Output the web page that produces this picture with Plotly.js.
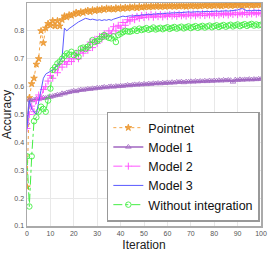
<!DOCTYPE html>
<html><head><meta charset="utf-8">
<script src="https://cdn.plot.ly/plotly-3.0.1.min.js"></script>
<style>html,body{margin:0;padding:0;background:#fff}#c{width:269px;height:254px}</style>
</head><body><div id="c"></div>
<script>
const iterations = Array.from({length:101},(_, i)=>i);
const pointnet = [0.24,0.56,0.61,0.63,0.68,0.70,0.80,0.757,0.81,0.826,0.82,0.836,0.817,0.836,0.817,0.84,0.853,0.849,0.857,0.855,
0.86,0.866,0.862,0.868,0.865,0.87,0.873,0.868,0.875,0.872,0.876,0.874,0.879,0.876,0.881,0.878,0.88,0.877,0.882,0.879,
0.883,0.88,0.884,0.881,0.885,0.883,0.886,0.882,0.887,0.884,0.886,0.888,0.885,0.889,0.886,0.888,0.89,0.886,0.889,0.887,
0.89,0.888,0.891,0.887,0.89,0.888,0.891,0.889,0.887,0.891,0.889,0.892,0.888,0.891,0.889,0.892,0.89,0.893,0.889,0.892,
0.89,0.893,0.891,0.889,0.893,0.891,0.894,0.89,0.893,0.891,0.894,0.892,0.89,0.894,0.892,0.895,0.891,0.894,0.892,0.895,0.893];
const model1 = [0.47,0.552,0.55,0.553,0.556,0.556,0.558,0.56,0.559,0.562,0.563,0.566,0.568,0.571,0.57,0.576,0.575,0.579,0.58,0.583,
0.585,0.583,0.587,0.589,0.588,0.59,0.592,0.591,0.594,0.593,0.596,0.595,0.597,0.599,0.597,0.6,0.601,0.599,0.602,0.601,
0.603,0.602,0.604,0.606,0.604,0.606,0.608,0.606,0.609,0.607,0.61,0.608,0.611,0.609,0.612,0.611,0.613,0.611,0.614,0.612,
0.615,0.613,0.616,0.614,0.617,0.616,0.618,0.615,0.618,0.617,0.619,0.617,0.62,0.618,0.62,0.619,0.621,0.619,0.622,0.62,
0.622,0.621,0.623,0.621,0.624,0.622,0.624,0.623,0.617,0.625,0.623,0.626,0.624,0.626,0.625,0.627,0.625,0.627,0.626,0.628,0.627];
const model2 = [0.45,0.5,0.53,0.51,0.55,0.57,0.56,0.59,0.6,0.62,0.64,0.63,0.66,0.65,0.68,0.67,0.69,0.68,0.7,0.69,
0.7,0.72,0.7,0.73,0.72,0.74,0.73,0.76,0.74,0.77,0.755,0.78,0.77,0.79,0.78,0.8,0.79,0.815,0.8,0.82,
0.81,0.83,0.82,0.84,0.835,0.848,0.84,0.852,0.845,0.855,0.848,0.856,0.85,0.858,0.849,0.857,0.851,0.858,0.85,0.857,
0.852,0.859,0.853,0.858,0.852,0.86,0.854,0.858,0.853,0.86,0.855,0.861,0.854,0.86,0.856,0.862,0.855,0.861,0.857,0.862,
0.856,0.863,0.857,0.862,0.858,0.864,0.857,0.863,0.859,0.865,0.858,0.864,0.86,0.866,0.859,0.865,0.861,0.866,0.86,0.865,0.862];
const model3 = [0.45,0.55,0.52,0.51,0.5,0.545,0.59,0.63,0.645,0.65,0.653,0.66,0.668,0.675,0.69,0.705,0.81,0.8,0.808,0.815,
0.82,0.826,0.832,0.836,0.84,0.845,0.843,0.84,0.842,0.839,0.838,0.84,0.837,0.84,0.838,0.841,0.838,0.842,0.845,0.848,
0.852,0.853,0.851,0.853,0.854,0.853,0.855,0.856,0.855,0.858,0.857,0.859,0.86,0.858,0.861,0.86,0.862,0.861,0.863,0.862,
0.864,0.863,0.865,0.864,0.866,0.865,0.866,0.867,0.866,0.868,0.867,0.868,0.867,0.869,0.868,0.869,0.868,0.87,0.869,0.87,
0.869,0.871,0.87,0.871,0.87,0.872,0.871,0.872,0.871,0.873,0.875,0.878,0.88,0.876,0.872,0.873,0.872,0.874,0.873,0.874,0.873];
const withoutIntegration = [0.35,0.17,0.35,0.476,0.49,0.51,0.528,0.52,0.51,0.55,0.593,0.66,0.67,0.683,0.69,0.70,0.71,0.719,0.715,0.725,
0.713,0.72,0.707,0.737,0.74,0.735,0.743,0.75,0.767,0.76,0.764,0.77,0.778,0.785,0.78,0.775,0.773,0.78,0.76,0.785,
0.79,0.795,0.8,0.798,0.797,0.8,0.805,0.8,0.808,0.803,0.806,0.81,0.804,0.807,0.812,0.805,0.808,0.811,0.806,0.81,
0.813,0.807,0.811,0.814,0.808,0.812,0.815,0.809,0.813,0.816,0.81,0.814,0.817,0.811,0.815,0.818,0.812,0.816,0.819,0.813,
0.817,0.82,0.814,0.818,0.821,0.815,0.819,0.822,0.816,0.82,0.823,0.817,0.821,0.824,0.818,0.822,0.825,0.819,0.823,0.82,0.822];
const seriesNames = ["Pointnet","Model 1","Model 2","Model 3","Without integration"];

const traces = [
 {x:iterations,y:pointnet,name:seriesNames[0],mode:"lines+markers",
  line:{color:"#F5A547",width:1,dash:"dot"},marker:{symbol:"star",size:5,color:"#F2A445",line:{width:0.8,color:"#E8962E"}}},
 {x:iterations,y:model1,name:seriesNames[1],mode:"lines+markers",
  line:{color:"#A066C0",width:1.5},marker:{symbol:"triangle-up-open",size:5,color:"#A066C0",line:{width:0.8}}},
 {x:iterations,y:model2,name:seriesNames[2],mode:"lines+markers",
  line:{color:"#FF55FF",width:1,dash:"dash"},marker:{symbol:"cross-thin-open",size:5,color:"#FF55FF",line:{width:1,color:"#FF55FF"}}},
 {x:iterations,y:model3,name:seriesNames[3],mode:"lines",
  line:{color:"#5A5AFF",width:1}},
 {x:iterations,y:withoutIntegration,name:seriesNames[4],mode:"lines+markers",
  line:{color:"#44EE44",width:1,dash:"dashdot"},marker:{symbol:"circle-open",size:5.5,color:"#44EE44",line:{width:0.9}}}
];
const axisCommon = {showgrid:true,gridcolor:"#e8e8e8",gridwidth:1,zeroline:false,showline:true,linecolor:"#aaaaaa",linewidth:1.5,
 mirror:true,ticks:"",tickfont:{size:7,color:"#555",family:"Liberation Sans, Arial"}};
const layout = {
 width:269,height:254,margin:{l:27,r:8,t:3,b:28},paper_bgcolor:"#fff",plot_bgcolor:"#fff",
 font:{family:"Liberation Sans, Arial",color:"#222"},
 xaxis:Object.assign({},axisCommon,{range:[0,100],dtick:10,tick0:0,title:{text:"Iteration",font:{size:12,color:"#222"},standoff:4}}),
 yaxis:Object.assign({},axisCommon,{range:[0.1,0.9],dtick:0.1,tick0:0.1,tickformat:".1f",title:{text:"Accuracy",font:{size:12,color:"#222"},standoff:2}}),
 showlegend:true,
 legend:{x:0.995,xanchor:"right",y:0.02,yanchor:"bottom",bgcolor:"#fff",bordercolor:"#999",borderwidth:1.5,
  font:{size:12.5,color:"#111"},tracegroupgap:0,itemwidth:30}
};
Plotly.newPlot("c",traces,layout,{displayModeBar:false,staticPlot:true});
</script></body></html>
